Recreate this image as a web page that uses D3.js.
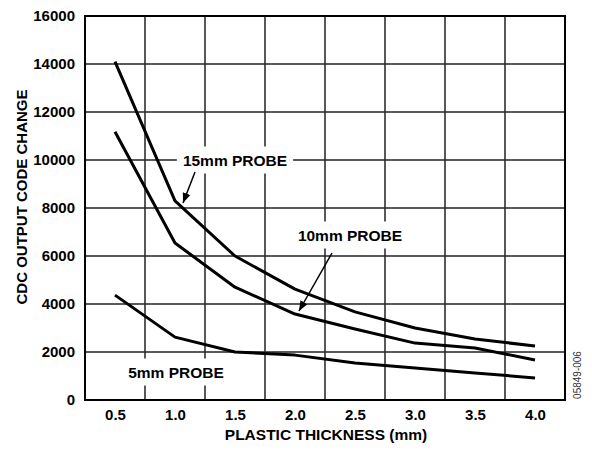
<!DOCTYPE html>
<html>
<head>
<meta charset="utf-8">
<script src="https://cdn.jsdelivr.net/npm/d3@7"></script>
<style>
  body { margin: 0; background: #fff; }
  text { font-family: "Liberation Sans", Arial, sans-serif; }
</style>
</head>
<body>
<svg id="chart"></svg>
<script>
const thickness = [0.5, 1.0, 1.5, 2.0, 2.5, 3.0, 3.5, 4.0];
const probe15 = [14100, 8300, 6000, 4620, 3670, 3000, 2540, 2250];
const probe10 = [11180, 6540, 4700, 3580, 2960, 2370, 2170, 1670];
const probe5 = [4370, 2620, 2000, 1870, 1540, 1330, 1130, 920];
const yTicks = [0, 2000, 4000, 6000, 8000, 10000, 12000, 14000, 16000];
const xTickLabels = ["0.5", "1.0", "1.5", "2.0", "2.5", "3.0", "3.5", "4.0"];
const gridX = [0.75, 1.25, 1.75, 2.25, 2.75, 3.25, 3.75];

const width = 592;
const height = 452;
const plotLeft = 85, plotRight = 565, plotTop = 16, plotBottom = 400;

const svg = d3.select("#chart")
  .attr("width", width)
  .attr("height", height);

const xScale = d3.scaleLinear().domain([0.25, 4.25]).range([plotLeft, plotRight]);
const yScale = d3.scaleLinear().domain([0, 16000]).range([plotBottom, plotTop]);

// grid
svg.append("g")
  .selectAll("line")
  .data(gridX)
  .enter()
  .append("line")
  .attr("x1", d => xScale(d)).attr("x2", d => xScale(d))
  .attr("y1", plotTop).attr("y2", plotBottom)
  .attr("stroke", "#222").attr("stroke-width", 1.5);

svg.append("g")
  .selectAll("line")
  .data(yTicks.slice(1, -1))
  .enter()
  .append("line")
  .attr("x1", plotLeft).attr("x2", plotRight)
  .attr("y1", d => yScale(d)).attr("y2", d => yScale(d))
  .attr("stroke", "#222").attr("stroke-width", 1.5);

// axes (labels only)
const yAxis = d3.axisLeft(yScale).tickValues(yTicks).tickFormat(d3.format("d"))
  .tickSize(0).tickPadding(10);
const gy = svg.append("g")
  .attr("transform", "translate(" + plotLeft + ",0)")
  .call(yAxis);
gy.select(".domain").remove();
gy.selectAll("text")
  .style("font-size", "15px").style("font-weight", "bold")
  .style("font-family", "'Liberation Sans', Arial, sans-serif");

const xAxis = d3.axisBottom(xScale).tickValues(thickness)
  .tickFormat((d, i) => xTickLabels[i]).tickSize(0).tickPadding(9);
const gx = svg.append("g")
  .attr("transform", "translate(0," + plotBottom + ")")
  .call(xAxis);
gx.select(".domain").remove();
gx.selectAll("text")
  .style("font-size", "15px").style("font-weight", "bold")
  .style("font-family", "'Liberation Sans', Arial, sans-serif");

// labels with white backgrounds that break the grid
const labels = [
  { text: "15mm PROBE", x: 235, y: 160 },
  { text: "10mm PROBE", x: 350, y: 235 },
  { text: "5mm PROBE", x: 176, y: 372 }
];

const series = [probe15, probe10, probe5];

const line = d3.line()
  .x((d, i) => xScale(thickness[i]))
  .y(d => yScale(d));

const labelGroup = svg.append("g");
labels.forEach(l => {
  const t = labelGroup.append("text")
    .attr("x", l.x).attr("y", l.y)
    .attr("text-anchor", "middle")
    .attr("dominant-baseline", "central")
    .style("font-size", "15.5px").style("font-weight", "bold")
    .text(l.text);
  const bb = t.node().getBBox();
  labelGroup.insert("rect", "text")
    .attr("x", bb.x - 6).attr("y", bb.y - 5)
    .attr("width", bb.width + 12).attr("height", bb.height + 10)
    .attr("fill", "#fff");
});

svg.append("g")
  .selectAll("path")
  .data(series)
  .enter()
  .append("path")
  .attr("d", line)
  .attr("fill", "none")
  .attr("stroke", "#000")
  .attr("stroke-width", 3)
  .attr("stroke-linejoin", "round");

// frame
svg.append("rect")
  .attr("x", plotLeft).attr("y", plotTop)
  .attr("width", plotRight - plotLeft).attr("height", plotBottom - plotTop)
  .attr("fill", "none").attr("stroke", "#000").attr("stroke-width", 2);

// arrows
svg.append("defs").append("marker")
  .attr("id", "arrow")
  .attr("viewBox", "0 0 10 10")
  .attr("refX", 10).attr("refY", 5)
  .attr("markerWidth", 10).attr("markerHeight", 10)
  .attr("markerUnits", "userSpaceOnUse")
  .attr("orient", "auto")
  .append("path")
  .attr("d", "M0,1 L10,5 L0,9 Z")
  .attr("fill", "#000");

const arrows = [
  [195, 172, 183, 203],
  [332, 253, 299, 311]
];
svg.append("g")
  .selectAll("line")
  .data(arrows)
  .enter()
  .append("line")
  .attr("x1", d => d[0]).attr("y1", d => d[1])
  .attr("x2", d => d[2]).attr("y2", d => d[3])
  .attr("stroke", "#000").attr("stroke-width", 1.5)
  .attr("marker-end", "url(#arrow)");

// axis titles
svg.append("text")
  .attr("transform", "translate(21,197) rotate(-90)")
  .attr("text-anchor", "middle")
  .attr("dominant-baseline", "central")
  .style("font-size", "15px").style("font-weight", "bold")
  .text("CDC OUTPUT CODE CHANGE");

svg.append("text")
  .attr("x", 326).attr("y", 434)
  .attr("text-anchor", "middle")
  .attr("dominant-baseline", "central")
  .style("font-size", "15.5px").style("font-weight", "bold")
  .text("PLASTIC THICKNESS (mm)");

svg.append("text")
  .attr("transform", "translate(577,375) rotate(-90)")
  .attr("text-anchor", "middle")
  .attr("dominant-baseline", "central")
  .style("font-size", "10px").style("fill", "#333")
  .text("05849-006");
</script>
</body>
</html>
